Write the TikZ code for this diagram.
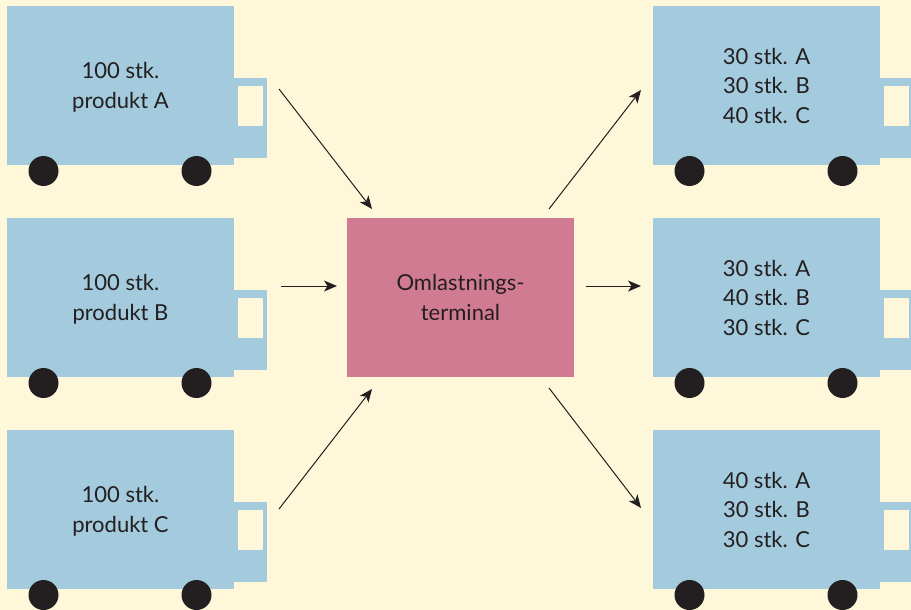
\documentclass[tikz,border=0pt]{standalone}
\usepackage{fontspec}
\setmainfont{Lato}
\usetikzlibrary{arrows.meta}
\definecolor{paper}{HTML}{FEF7DA}
\definecolor{truckblue}{HTML}{A3CADD}
\definecolor{terminalred}{HTML}{D07B92}
\definecolor{ink}{HTML}{231F20}
\tikzset{
  label/.style={text=ink,align=center,text depth=-2pt,font=\fontsize{22}{29.5}\selectfont},
  body/.style={fill=truckblue,shape=rectangle,inner sep=0,minimum width=227,minimum height=159,label},
  cab/.style={fill=truckblue,shape=rectangle,inner sep=0,minimum width=33,minimum height=80},
  window/.style={fill=paper,shape=rectangle,inner sep=0,minimum width=25,minimum height=40},
  wheel/.style={fill=ink,shape=circle,inner sep=0,minimum size=30},
  arrow/.style={-{Stealth[length=13,width=11,inset=3.5]},ink,line width=1}
}
% #1 name, #2 left edge, #3 top edge, #4 text
\newcommand{\truck}[4]{
  \node[cab] (#1cab) at (#2+243.5,#3+112) {};
  \node[window] (#1window) at (#2+243.5,#3+100) {};
  \node[body] (#1) at (#2+113.5,#3+79.5) {#4};
  \node[wheel] (#1back) at (#2+36.5,#3+165) {};
  \node[wheel] (#1front) at (#2+189.5,#3+165) {};
}
\begin{document}
\begin{tikzpicture}[x=1pt,y=-1pt]
  \useasboundingbox (0,0) rectangle (911,610);
  \clip (0,0) rectangle (911,610);
  \fill[paper] (0,0) rectangle (911,610);
  \truck{inA}{7}{6}{100 stk.\\produkt A}
  \truck{inB}{7}{218}{100 stk.\\produkt B}
  \truck{inC}{7}{430}{100 stk.\\produkt C}
  \truck{outA}{653}{6}{30 stk. A\\30 stk. B\\40 stk. C}
  \truck{outB}{653}{218}{30 stk. A\\40 stk. B\\30 stk. C}
  \truck{outC}{653}{430}{40 stk. A\\30 stk. B\\30 stk. C}
  \node[fill=terminalred,shape=rectangle,inner sep=0,minimum width=227,minimum height=159,label] (terminal) at (460.5,297.5) {Omlastnings-\\terminal};
  % free ends of the arrows
  \coordinate (fromA) at (279,89);
  \coordinate (toA) at (372,209);
  \coordinate (fromB) at (281,286);
  \coordinate (toB) at (337,286);
  \coordinate (fromC) at (279,509);
  \coordinate (toC) at (372,389);
  \coordinate (startA) at (549,209);
  \coordinate (endA) at (641,90);
  \coordinate (startB) at (586,286);
  \coordinate (endB) at (641,286);
  \coordinate (startC) at (549,388);
  \coordinate (endC) at (641,508);
  \draw[arrow] (fromA) -- (toA);
  \draw[arrow] (fromB) -- (toB);
  \draw[arrow] (fromC) -- (toC);
  \draw[arrow] (startA) -- (endA);
  \draw[arrow] (startB) -- (endB);
  \draw[arrow] (startC) -- (endC);
\end{tikzpicture}
\end{document}
